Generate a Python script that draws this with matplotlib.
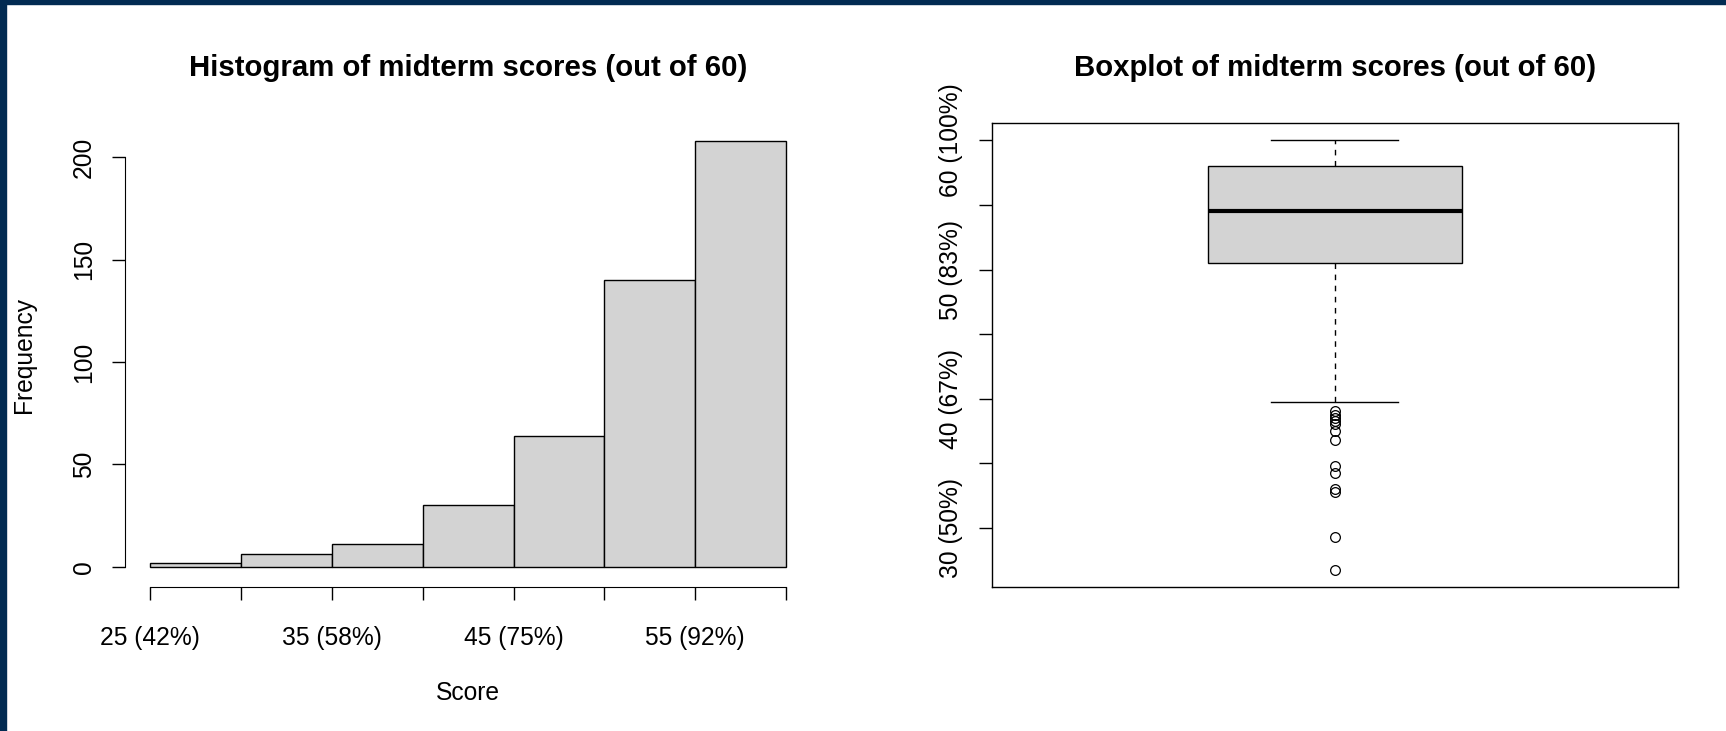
import matplotlib
matplotlib.use('Agg')
import matplotlib.pyplot as plt
from matplotlib.patches import Rectangle

plt.rcParams['font.family'] = ['Liberation Sans', 'DejaVu Sans']

# histogram of midterm scores
bin_edges = [25, 30, 35, 40, 45, 50, 55, 60]
counts = [2, 6, 11, 30, 64, 140, 208]
hist_xticks = [25, 30, 35, 40, 45, 50, 55, 60]
hist_xlabels = ['25 (42%)', '', '35 (58%)', '', '45 (75%)', '', '55 (92%)', '']
hist_yticks = [0, 50, 100, 150, 200]

# boxplot summary
q1 = 50.5
median = 54.5
q3 = 58.0
whisker_low = 39.75
whisker_high = 60.0
outliers = [39.0, 38.75, 38.5, 38.25, 38.0, 37.5, 36.75,
            34.75, 34.25, 33.0, 32.75, 29.25, 26.75]
box_yticks = [30, 35, 40, 45, 50, 55, 60]
box_ylabels = ['30 (50%)', '', '40 (67%)', '', '50 (83%)', '', '60 (100%)']

W, H = 1726, 731
fig = plt.figure(figsize=(W / 100, H / 100), dpi=100)

tick_size = 17.7
title_size = 21.2
tick_len = 9.4

# axes rectangles in pixels (left, top, right, bottom)
def px_axes(l, t, r, b):
    return fig.add_axes([l / W, 1 - b / H, (r - l) / W, (b - t) / H])

ax1 = px_axes(125, 123.3, 811.4, 586.7)
ax2 = px_axes(991.7, 123.3, 1677.7, 586.7)

# --- histogram ---
widths = [bin_edges[i + 1] - bin_edges[i] for i in range(len(counts))]
ax1.bar(bin_edges[:-1], counts, width=widths, align='edge',
        color='#d3d3d3', edgecolor='black', linewidth=1.0)
xr = bin_edges[-1] - bin_edges[0]
ax1.set_xlim(bin_edges[0] - 0.04 * xr, bin_edges[-1] + 0.04 * xr)
ax1.set_ylim(-9.8, 216.6)
for s in ['top', 'right']:
    ax1.spines[s].set_visible(False)
ax1.spines['left'].set_bounds(hist_yticks[0], hist_yticks[-1])
ax1.spines['bottom'].set_bounds(hist_xticks[0], hist_xticks[-1])
ax1.set_xticks(hist_xticks)
ax1.set_xticklabels(hist_xlabels, fontsize=tick_size)
ax1.set_yticks(hist_yticks)
ax1.set_yticklabels([str(v) for v in hist_yticks], fontsize=tick_size,
                    rotation=90, va='center', ha='right')
ax1.tick_params(axis='x', length=tick_len, width=1, pad=18.6)
ax1.tick_params(axis='y', length=tick_len, width=1, pad=11.5)
ax1.set_title('Histogram of midterm scores (out of 60)', fontsize=title_size,
              fontweight='bold', pad=34)
ax1.set_xlabel('Score', fontsize=tick_size, va='center')
ax1.xaxis.set_label_coords(0.5, (586.7 - 692.5) / 463.4)
ax1.set_ylabel('Frequency', fontsize=tick_size, va='center')
ax1.yaxis.set_label_coords(-(125 - 24) / 686.4, 0.5)

# --- boxplot ---
stats = [dict(med=median, q1=q1, q3=q3, whislo=whisker_low,
              whishi=whisker_high, fliers=outliers)]
ax2.bxp(stats, positions=[1], widths=0.4, capwidths=0.2, patch_artist=True,
        boxprops=dict(facecolor='#d3d3d3', edgecolor='black', linewidth=1.0),
        medianprops=dict(color='black', linewidth=3.0, solid_capstyle='butt'),
        whiskerprops=dict(color='black', linewidth=1.0, linestyle=(0, (4, 4))),
        capprops=dict(color='black', linewidth=1.0),
        flierprops=dict(marker='o', markerfacecolor='none',
                        markeredgecolor='black', markersize=7,
                        markeredgewidth=0.9))
lo = min(outliers + [whisker_low])
hi = whisker_high
r = hi - lo
ax2.set_ylim(lo - 0.04 * r, hi + 0.04 * r)
ax2.set_xlim(0.46, 1.54)
ax2.set_xticks([])
ax2.set_yticks(box_yticks)
ax2.set_yticklabels(box_ylabels, fontsize=tick_size, rotation=90,
                    va='center', ha='right')
ax2.tick_params(axis='y', length=tick_len, width=1, pad=11.5)
for s in ax2.spines.values():
    s.set_linewidth(1.0)
ax2.set_title('Boxplot of midterm scores (out of 60)', fontsize=title_size,
              fontweight='bold', pad=34)

# dark frame on the left and top edges
navy = '#022b52'
fig.patches.append(Rectangle((0, 0), 6 / W, 1, transform=fig.transFigure,
                             color=navy, zorder=10))
fig.patches.append(Rectangle((0, 1 - 3.5 / H), 1, 3.5 / H,
                             transform=fig.transFigure, color=navy, zorder=10))

fig.savefig('out.png', dpi=100)
